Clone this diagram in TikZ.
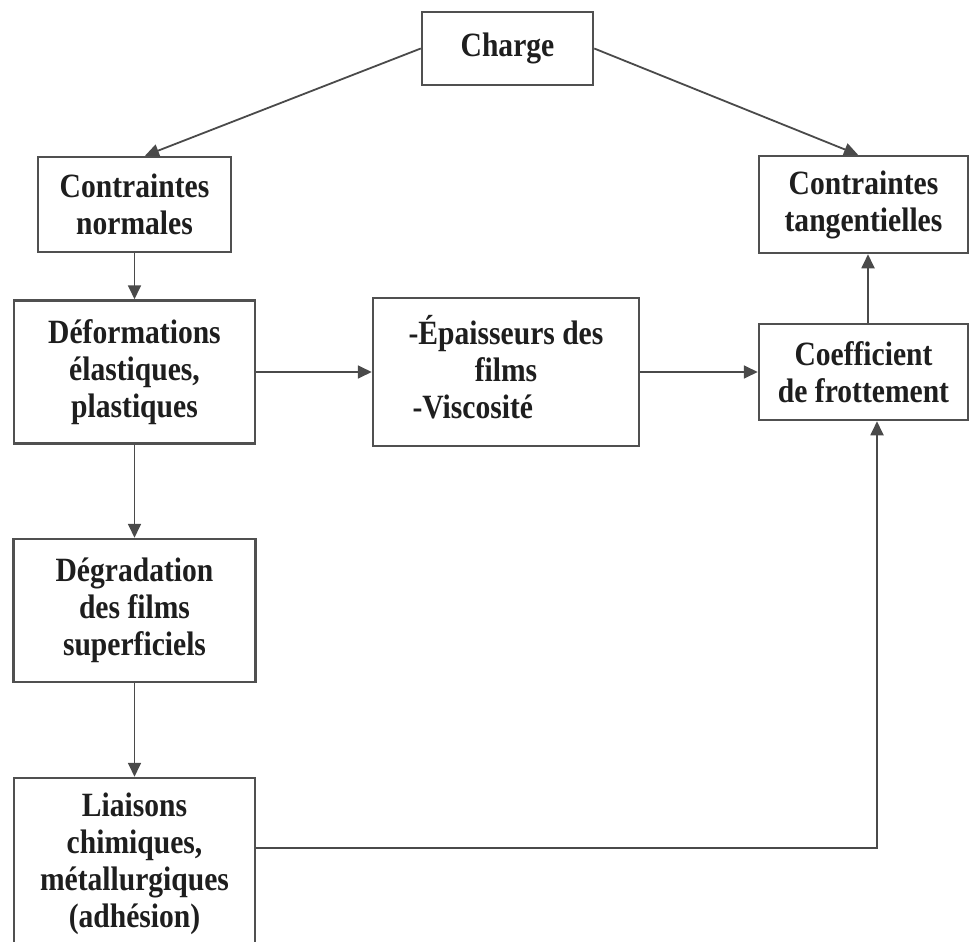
\documentclass[tikz,border=0pt]{standalone}
\usepackage{fontspec}
\setmainfont{Liberation Serif}[FakeStretch=0.87]
\usetikzlibrary{arrows.meta}
\definecolor{linegray}{HTML}{4A4A4A}
\definecolor{boxgray}{HTML}{505050}
\definecolor{txt}{HTML}{1E1E1E}
\tikzset{
  box/.style={draw=boxgray, line width=2.5pt, fill=white, inner sep=0pt, align=center,
    text=txt, font=\fontsize{34}{37}\selectfont\bfseries},
  conn/.style={draw=linegray, line width=1.8pt, -{Triangle[length=14pt,width=13pt]}},
}
\begin{document}
\begin{tikzpicture}[x=1pt,y=-1pt]
\useasboundingbox (0,0) rectangle (970,942);
\node[box, minimum width=171pt, minimum height=73pt] (charge) at (507.5,48.5) {Charge};
\node[box, minimum width=193pt, minimum height=95pt] (norm) at (134.5,204.5) {Contraintes\\normales};
\node[box, minimum width=209pt, minimum height=97pt] (tang) at (863.5,204.5) {Contraintes\\tangentielles};
\node[box, minimum width=241pt, minimum height=143pt] (deform) at (134.5,372) {Déformations\\élastiques,\\plastiques};
\node[box, minimum width=266pt, minimum height=148pt] (epais) at (506,372) {\begin{tabular}{@{}l@{}}-Épaisseurs des\\\multicolumn{1}{@{}c@{}}{films}\\\hspace{4pt}-Viscosité\end{tabular}};
\node[box, minimum width=209pt, minimum height=96pt] (coeff) at (863.5,372) {Coefficient\\de frottement};
\node[box, minimum width=242pt, minimum height=143pt] (degr) at (134.5,610.5) {Dégradation\\des films\\superficiels};
\node[box, minimum width=241pt, minimum height=172pt] (liai) at (134.5,864) {Liaisons\\chimiques,\\métallurgiques\\(adhésion)};

\draw[conn] (charge.west) -- ([xshift=10.5pt]norm.north);
\draw[conn] (charge.east) -- ([xshift=-5.5pt]tang.north);
\draw[conn] (norm.south) -- (deform.north);
\draw[conn] (deform.east) -- (epais.west);
\draw[conn] (epais.east) -- (coeff.west);
\draw[conn] ([xshift=4.5pt]coeff.north) -- ([xshift=4.5pt]tang.south);
\draw[conn] (deform.south) -- (degr.north);
\draw[conn] (degr.south) -- (liai.north);
\draw[conn] ([yshift=16pt]liai.east) -| ([xshift=13.5pt]coeff.south);
\end{tikzpicture}
\end{document}
